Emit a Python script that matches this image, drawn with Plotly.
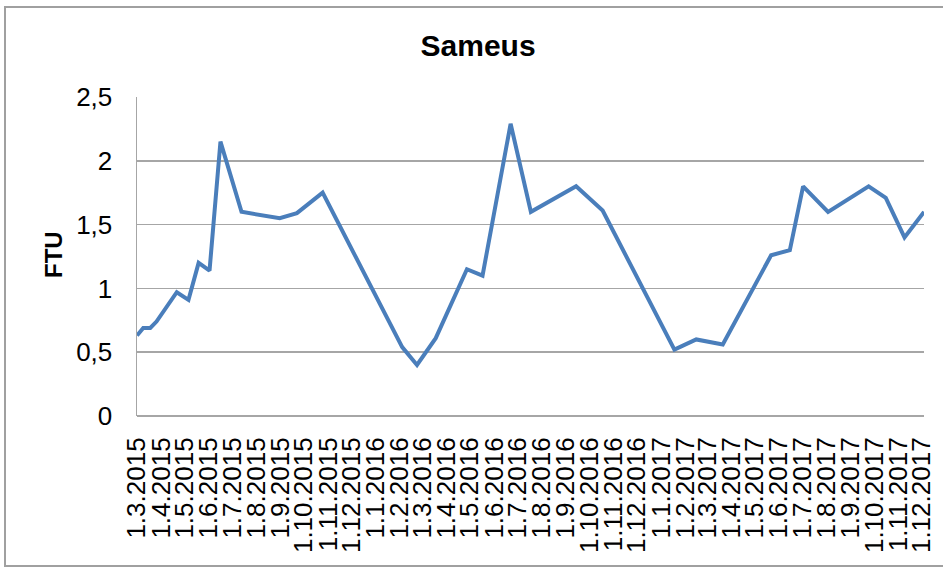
import plotly.graph_objects as go

dates = [
    "2015-03-01", "2015-03-09", "2015-03-18", "2015-03-26", "2015-04-21",
    "2015-05-06", "2015-05-19", "2015-06-02", "2015-06-16", "2015-07-13",
    "2015-08-31", "2015-09-22", "2015-10-25", "2016-02-04", "2016-02-23",
    "2016-03-18", "2016-04-27", "2016-05-17", "2016-06-22", "2016-07-18",
    "2016-09-14", "2016-10-18", "2017-01-18", "2017-02-15", "2017-03-21",
    "2017-05-22", "2017-06-15", "2017-07-02", "2017-08-03", "2017-09-24",
    "2017-10-16", "2017-11-09", "2017-12-04",
]
ftu = [
    0.63, 0.69, 0.69, 0.74, 0.97,
    0.91, 1.20, 1.14, 2.15, 1.60,
    1.55, 1.59, 1.75, 0.54, 0.40,
    0.61, 1.15, 1.10, 2.29, 1.60,
    1.80, 1.61, 0.52, 0.60, 0.56,
    1.26, 1.30, 1.80, 1.60, 1.80,
    1.71, 1.40, 1.60,
]

tick_dates = []
tick_text = []
for y in (2015, 2016, 2017):
    for m in range(1, 13):
        if (y == 2015 and m < 3):
            continue
        tick_dates.append(f"{y}-{m:02d}-01")
        tick_text.append(f"1.{m}.{y}")

y_ticks = [0, 0.5, 1, 1.5, 2, 2.5]
y_text = ["0", "0,5", "1", "1,5", "2", "2,5"]

FONT = "Liberation Sans, Arial, sans-serif"
GRID = "#a6a6a6"

fig = go.Figure()
fig.add_trace(go.Scatter(
    x=dates, y=ftu, mode="lines",
    line=dict(color="#4a7ebb", width=4),
    showlegend=False,
))

fig.update_layout(
    width=943, height=567,
    paper_bgcolor="white", plot_bgcolor="white",
    margin=dict(l=137, r=19, t=97, b=151, autoexpand=False),
    title=dict(text="<b>Sameus</b>", x=0.507, xanchor="center",
               y=1 - 45 / 567, yanchor="middle", yref="container",
               font=dict(family=FONT, size=30, color="#000000")),
    font=dict(family=FONT, color="#000000"),
    xaxis=dict(
        type="date", automargin=False,
        range=[dates[0], dates[-1]],
        tickmode="array", tickvals=tick_dates, ticktext=tick_text,
        tickangle=-90, tickfont=dict(size=26, family=FONT, color="#000000"),
        showgrid=False, showline=False, zeroline=False,
        ticks="outside", ticklen=10, tickcolor="rgba(0,0,0,0)",
    ),
    yaxis=dict(
        range=[0, 2.5], automargin=False,
        tickmode="array", tickvals=y_ticks, ticktext=y_text,
        tickfont=dict(size=26, family=FONT, color="#000000"),
        showgrid=True, gridcolor=GRID, gridwidth=1.5,
        zeroline=True, zerolinecolor=GRID, zerolinewidth=1.5,
        showline=True, linecolor=GRID, linewidth=1.5,
        ticks="outside", ticklen=18, tickcolor="rgba(0,0,0,0)",
    ),
    annotations=[dict(
        text="<b>FTU</b>", textangle=-90,
        x=(53 - 137) / 787, y=(416 - 255) / 319,
        xref="paper", yref="paper", showarrow=False,
        xanchor="center", yanchor="middle",
        font=dict(family=FONT, size=24, color="#000000"),
    )],
    shapes=[dict(
        type="rect", xref="paper", yref="paper",
        x0=(5 - 137) / 787, x1=(960 - 137) / 787,
        y0=(416 - 566) / 319, y1=(416 - 7) / 319,
        line=dict(color="#a0a0a0", width=2), fillcolor="rgba(0,0,0,0)",
        layer="below",
    )],
)

fig.write_html("out.html",
               config={"displayModeBar": False, "staticPlot": True},
               post_script="document.body.style.margin='0';document.body.style.overflow='hidden';")
